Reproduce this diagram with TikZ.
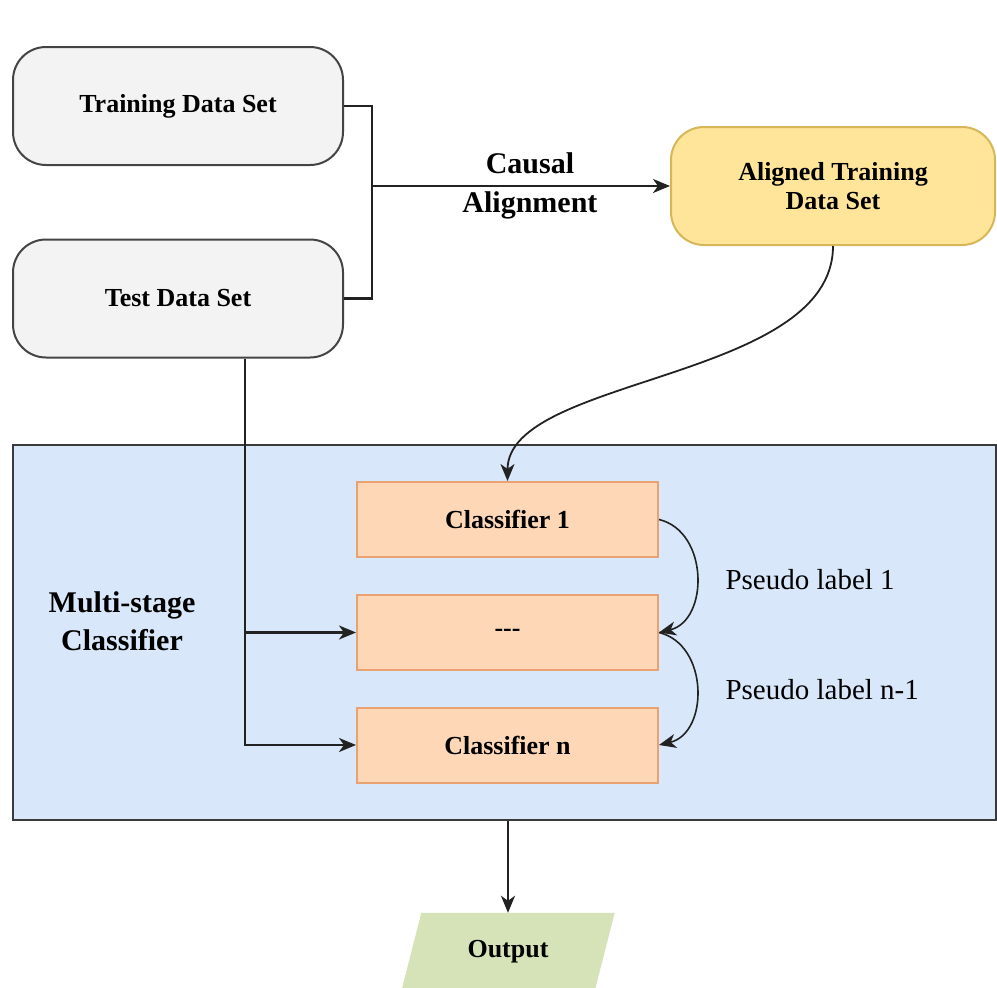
\documentclass[tikz,border=0pt]{standalone}
\usepackage{fontspec}
\setmainfont{Liberation Serif}
\usetikzlibrary{arrows.meta,calc}

\definecolor{boxgray}{HTML}{F3F3F3}
\definecolor{linegray}{HTML}{444444}
\definecolor{alignfill}{HTML}{FFE59A}
\definecolor{alignline}{HTML}{D6B656}
\definecolor{stagefill}{HTML}{D9E7FA}
\definecolor{stageline}{HTML}{3A3A3A}
\definecolor{clsfill}{HTML}{FDD7B6}
\definecolor{clsline}{HTML}{EBA273}
\definecolor{outfill}{HTML}{D6E2B8}
\definecolor{linedark}{HTML}{222222}

\begin{document}
\begin{tikzpicture}[x=1pt,y=-1pt,
  labelfont/.style={font=\fontsize{26}{30}\selectfont\bfseries},
  databox/.style={draw=linegray, fill=boxgray, line width=2pt,
    rounded corners=33pt, minimum width=330pt, minimum height=118pt,
    labelfont, align=center},
  alignbox/.style={databox, draw=alignline, fill=alignfill, minimum width=324pt},
  clsbox/.style={draw=clsline, fill=clsfill, line width=2pt,
    minimum width=301pt, minimum height=75pt, labelfont},
  link/.style={draw=linedark, line width=2.2pt},
  arrow/.style={link, -{Stealth[length=17pt,width=14pt,inset=5pt]}},
  pseudo/.style={font=\fontsize{29}{33}\selectfont, anchor=west}
]
\useasboundingbox (0,0) rectangle (997,988);

% input data sets
\node[databox] (train) at (178,106) {Training Data Set};
\node[databox] (test) at (178,298.5) {Test Data Set};
\node[alignbox] (aligned) at (833,186) {Aligned Training\\[-1pt]Data Set};

% causal alignment merge
\coordinate (merge) at (372,186);
\draw[link] (train.east) -| (merge);
\draw[link] (test.east) -| (merge);
\draw[arrow] (merge) -- node[pos=0.53, align=center,
  font=\fontsize{30}{39}\selectfont\bfseries] (causal) {Causal\\Alignment} (aligned.west);

% multi-stage classifier block
\node[draw=stageline, fill=stagefill, line width=2.2pt,
  minimum width=983pt, minimum height=375pt] (stage) at (504.5,632.5) {};
\node[align=center, font=\fontsize{30}{38}\selectfont\bfseries] (stagename) at (122,621) {Multi-stage\\Classifier};

\node[clsbox] (c1) at (507.5,519.5) {Classifier 1};
\node[clsbox] (cmid) at (507.5,632.5) {-{}-{}-};
\node[clsbox] (cn) at (507.5,745) {Classifier n};

% aligned data feeds the first stage
\draw[arrow, line width=1.8pt] (aligned.south) .. controls +(0,135) and +(0,-105) .. (c1.north);

% test data feeds the later stages
\coordinate (dropx) at (245,0);
\draw[arrow] (test.south -| dropx) |- (cmid.west);
\draw[arrow] (test.south -| dropx) |- (cn.west);

% pseudo labels passed between stages
\draw[arrow, line width=1.6pt] (c1.east) .. controls +(50,12) and +(50,-12) .. (cmid.east);
\draw[arrow, line width=1.6pt] (cmid.east) .. controls +(50,12) and +(50,-12) .. (cn.east);
\node[pseudo] (pl1) at (722,580) {Pseudo label 1};
\node[pseudo] (pln) at (722,690) {Pseudo label n-1};

% output
\node[minimum width=193pt, minimum height=78pt, labelfont] (output) at (508,952) {};
\fill[outfill] ([xshift=10pt]output.north west) -- ([xshift=10pt]output.north east)
  -- ([xshift=-10pt]output.south east) -- ([xshift=-10pt]output.south west) -- cycle;
\node[labelfont] (outtext) at (output.center) {Output};
\draw[arrow] (stage.south -| output) -- (output.north);
\end{tikzpicture}
\end{document}
